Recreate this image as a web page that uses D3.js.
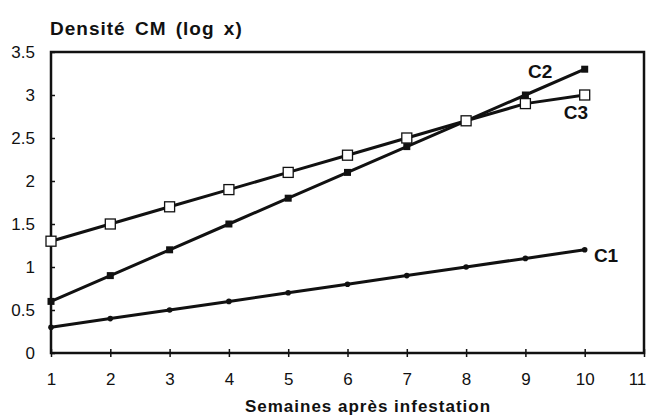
<!DOCTYPE html>
<html>
<head>
<meta charset="utf-8">
<script src="https://cdn.jsdelivr.net/npm/d3@7"></script>
<style>
  body { margin: 0; background: #fff; }
  text { font-family: "Liberation Sans", Arial, sans-serif; fill: #111; }
</style>
</head>
<body>
<div id="chart"></div>
<script>
var semaines = [1, 2, 3, 4, 5, 6, 7, 8, 9, 10];
var c1 = [0.3, 0.4, 0.5, 0.6, 0.7, 0.8, 0.9, 1.0, 1.1, 1.2];
var c2 = [0.6, 0.9, 1.2, 1.5, 1.8, 2.1, 2.4, 2.7, 3.0, 3.3];
var c3 = [1.3, 1.5, 1.7, 1.9, 2.1, 2.3, 2.5, 2.7, 2.9, 3.0];
var xTicks = [1, 2, 3, 4, 5, 6, 7, 8, 9, 10, 11];
var yTicks = [0, 0.5, 1, 1.5, 2, 2.5, 3, 3.5];

var width = 649, height = 415,
    margin = {top: 52, right: 5, bottom: 62, left: 51};

var svg = d3.select("#chart").append("svg")
    .attr("width", width)
    .attr("height", height);

var x = d3.scaleLinear().domain([1, 11]).range([margin.left, width - margin.right]);
var y = d3.scaleLinear().domain([0, 3.5]).range([height - margin.bottom, margin.top]);

// frame
svg.append("rect")
    .attr("x", x(1)).attr("y", y(3.5))
    .attr("width", x(11) - x(1)).attr("height", y(0) - y(3.5))
    .attr("fill", "none").attr("stroke", "#111").attr("stroke-width", 2.5);

// y axis
var yAxis = svg.append("g").attr("transform", "translate(" + x(1) + ",0)")
    .call(d3.axisLeft(y).tickValues(yTicks).tickSize(4).tickFormat(d3.format("")));
yAxis.select(".domain").remove();
yAxis.selectAll(".tick line").attr("x2", 4).attr("stroke", "#111").attr("stroke-width", 1.5);
yAxis.selectAll(".tick text").attr("x", -16).style("font-size", "17px");

// x axis
var xAxis = svg.append("g").attr("transform", "translate(0," + y(0) + ")")
    .call(d3.axisBottom(x).tickValues(xTicks).tickSize(4));
xAxis.select(".domain").remove();
xAxis.selectAll(".tick line").attr("y1", -4).attr("stroke", "#111").attr("stroke-width", 1.5);
xAxis.selectAll(".tick text").attr("y", 20).style("font-size", "17px")
    .attr("dx", function (d) { return d === 11 ? -7 : 0; });

// titles
svg.append("text").attr("x", 50).attr("y", 35)
    .style("font-size", "19px").style("font-weight", "bold")
    .style("letter-spacing", "1px").style("word-spacing", "3px")
    .text("Densité CM (log x)");

svg.append("text").attr("x", 368).attr("y", 412).attr("text-anchor", "middle")
    .style("font-size", "17px").style("font-weight", "bold")
    .style("letter-spacing", "1px")
    .text("Semaines après infestation");

// series
var line = d3.line()
    .x(function (d) { return x(d[0]); })
    .y(function (d) { return y(d[1]); });

function pairs(vals) { return semaines.map(function (s, i) { return [s, vals[i]]; }); }

var series = [
  {name: "C1", data: pairs(c1), shape: "dot"},
  {name: "C2", data: pairs(c2), shape: "filled"},
  {name: "C3", data: pairs(c3), shape: "open"}
];

series.forEach(function (s) {
  svg.append("path").datum(s.data)
      .attr("d", line)
      .attr("fill", "none").attr("stroke", "#111").attr("stroke-width", 3);
});

series.forEach(function (s) {
  var g = svg.append("g");
  if (s.shape === "dot") {
    g.selectAll("circle").data(s.data).enter().append("circle")
        .attr("cx", function (d) { return x(d[0]); })
        .attr("cy", function (d) { return y(d[1]); })
        .attr("r", 2.8).attr("fill", "#111");
  } else if (s.shape === "filled") {
    g.selectAll("rect").data(s.data).enter().append("rect")
        .attr("x", function (d) { return x(d[0]) - 3.5; })
        .attr("y", function (d) { return y(d[1]) - 3.5; })
        .attr("width", 7).attr("height", 7).attr("fill", "#111");
  } else {
    g.selectAll("rect").data(s.data).enter().append("rect")
        .attr("x", function (d) { return x(d[0]) - 5; })
        .attr("y", function (d) { return y(d[1]) - 5; })
        .attr("width", 10).attr("height", 10)
        .attr("fill", "#fff").attr("stroke", "#111").attr("stroke-width", 1.3);
  }
});

// series labels
var labels = [
  {name: "C2", x: 9.25, y: 3.28},
  {name: "C3", x: 9.85, y: 2.8},
  {name: "C1", x: 10.36, y: 1.14}
];
svg.selectAll(".lbl").data(labels).enter().append("text")
    .attr("class", "lbl")
    .attr("x", function (d) { return x(d.x); })
    .attr("y", function (d) { return y(d.y); })
    .attr("dy", "0.35em")
    .attr("text-anchor", "middle")
    .style("font-size", "19px").style("font-weight", "bold")
    .text(function (d) { return d.name; });
</script>
</body>
</html>
